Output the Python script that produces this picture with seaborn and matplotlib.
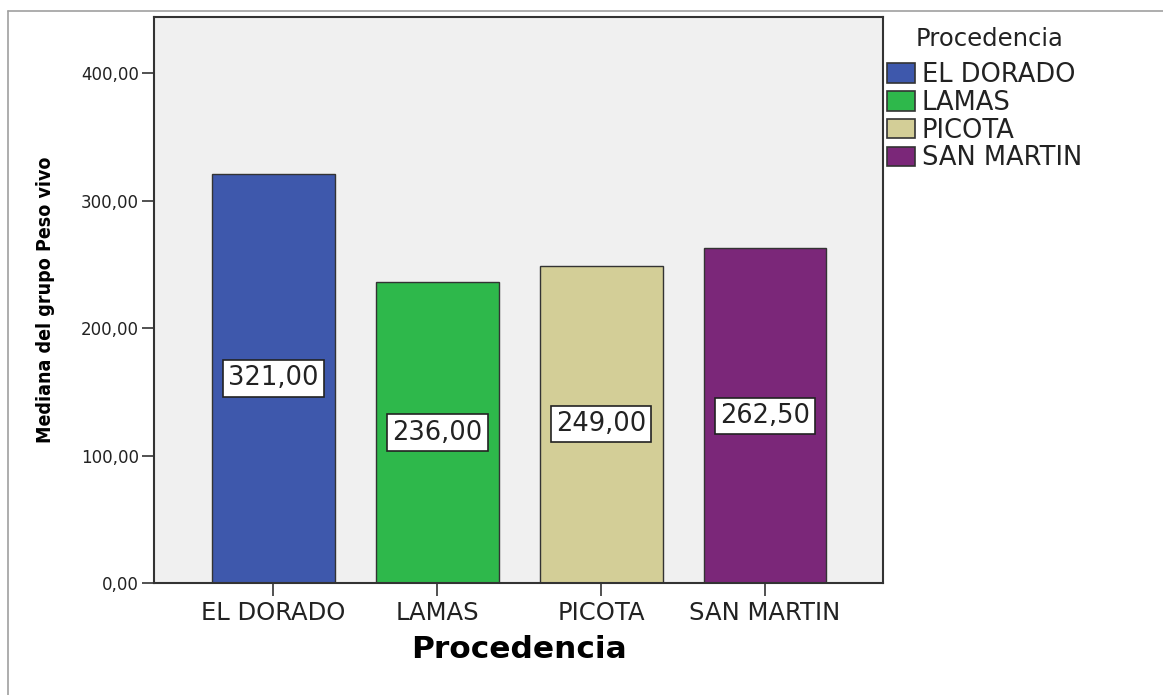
import matplotlib
matplotlib.use("Agg")
import matplotlib.pyplot as plt
import seaborn as sns
import pandas as pd
from matplotlib.ticker import FuncFormatter
from matplotlib.lines import Line2D

categories = ["EL DORADO", "LAMAS", "PICOTA", "SAN MARTIN"]
values = [321.00, 236.00, 249.00, 262.50]
colors = ["#3E58AC", "#2EB84B", "#D3CE97", "#7B2779"]
y_ticks = [0, 100, 200, 300, 400]

df = pd.DataFrame({"Procedencia": categories, "Mediana": values})

sns.set_theme(style="white")
plt.rcParams["font.family"] = ["DejaVu Sans"]

W, H = 1163, 695
fig = plt.figure(figsize=(W / 100, H / 100), dpi=100)
fig.patch.set_facecolor("white")

# axes placement in pixels
L, R, T, B = 154, 883, 17, 583
ax = fig.add_axes([L / W, 1 - B / H, (R - L) / W, (B - T) / H])
ax.set_facecolor("#F0F0F0")

sns.barplot(data=df, x="Procedencia", y="Mediana", hue="Procedencia",
            palette=colors, width=0.75, dodge=False, edgecolor="#333333",
            linewidth=1.0, ax=ax, legend=True, saturation=1)

ax.set_xlim(-0.729, 3.72)
ax.set_ylim(0, 444)
ax.set_yticks(y_ticks)
ax.yaxis.set_major_formatter(FuncFormatter(lambda v, p: f"{v:.2f}".replace(".", ",")))

for s in ax.spines.values():
    s.set_color("#333333")
    s.set_linewidth(1.5)

ax.tick_params(axis="both", which="major", direction="out", length=9, width=1.2,
               color="#333333", bottom=True, left=True)
ax.tick_params(axis="y", labelsize=12, labelcolor="#222222", pad=2)
ax.tick_params(axis="x", labelsize=17.5, labelcolor="#222222", pad=4)

# value labels at half height
for i, (c, v) in enumerate(zip(categories, values)):
    ax.text(i, v / 2, f"{v:.2f}".replace(".", ","), ha="center", va="center",
            fontsize=18.5, color="#222222",
            bbox=dict(boxstyle="square,pad=0.2", facecolor="white",
                      edgecolor="#222222", linewidth=1.2))

ax.set_xlabel("Procedencia", fontsize=22.5, fontweight="bold", color="black")
ax.xaxis.set_label_coords(0.5, (B - 650) / (B - T))
ax.xaxis.label.set_va("center")

ax.set_ylabel("Mediana del grupo Peso vivo", fontsize=14, fontweight="bold",
              color="black", fontstretch="condensed",
              family=["DejaVu Sans"])
ax.yaxis.set_label_coords((46 - L) / (R - L), 0.5)
ax.yaxis.label.set_va("center")

handles, labels = ax.get_legend_handles_labels()
if ax.get_legend() is not None:
    ax.get_legend().remove()
leg = fig.legend(handles, labels, loc="upper left",
                 bbox_to_anchor=(887 / W, 1 - 62 / H), frameon=False,
                 fontsize=18.5, handlelength=1.1,
                 handleheight=0.78, handletextpad=0.25, labelspacing=0.07,
                 borderpad=0, borderaxespad=0)
for h in leg.legend_handles:
    h.set_edgecolor("#333333")
    h.set_linewidth(1.2)
for t in leg.get_texts():
    t.set_color("#222222")
fig.text(990 / W, 1 - 39 / H, "Procedencia", ha="center", va="center",
         fontsize=17.5, color="#222222")

# outer frame lines (left and top)
fig.add_artist(Line2D([8 / W, 8 / W], [0, 1 - 11 / H], transform=fig.transFigure,
                      color="#A0A0A0", linewidth=1.2))
fig.add_artist(Line2D([8 / W, 1], [1 - 11 / H, 1 - 11 / H], transform=fig.transFigure,
                      color="#A0A0A0", linewidth=1.2))

fig.savefig("out.png", dpi=100, facecolor="white")
